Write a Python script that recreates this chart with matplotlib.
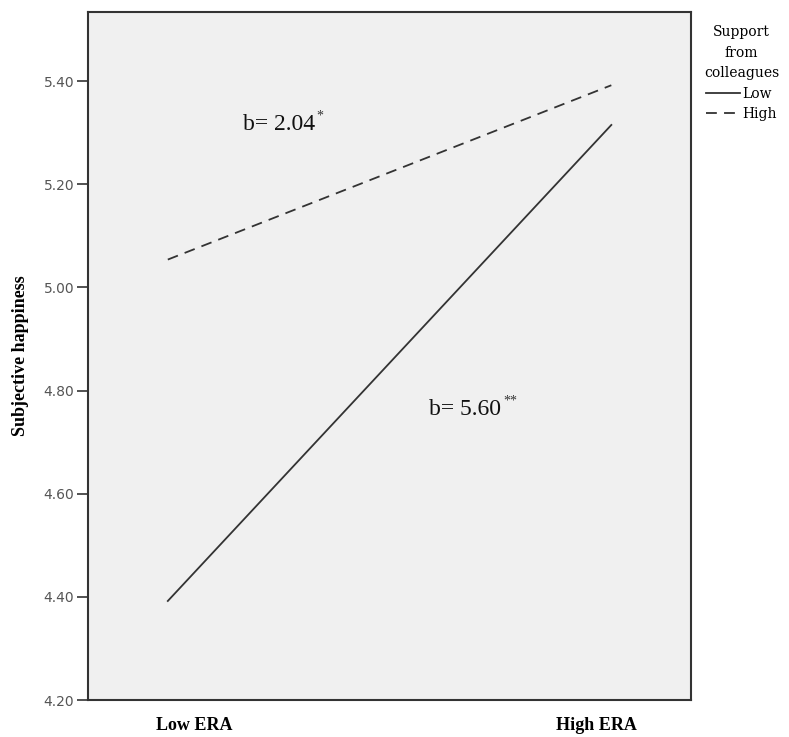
import matplotlib
matplotlib.use("Agg")
import matplotlib.pyplot as plt

categories = ["Low ERA", "High ERA"]
low_support = [4.392, 5.315]
high_support = [5.054, 5.392]
yticks = [4.20, 4.40, 4.60, 4.80, 5.00, 5.20, 5.40]

fig = plt.figure(figsize=(7.89, 7.37), dpi=100)
ax = fig.add_axes([0.1115, 0.0502, 0.7645, 0.9335])
ax.set_facecolor("#f0f0f0")

x = [0, 1]
ax.plot(x, low_support, color="#333333", lw=1.3, ls="-", label="Low")
ax.plot(x, high_support, color="#333333", lw=1.3, ls=(0, (6, 4)), label="High")

ax.set_xlim(-0.18, 1.18)
ax.set_ylim(4.20, 5.534)
ax.set_yticks(yticks)
ax.set_yticklabels([f"{v:.2f}" for v in yticks], fontsize=10, color="#555555",
                   family="DejaVu Sans")
ax.tick_params(axis="y", direction="out", length=8, width=1.2, color="#333333", pad=2)
ax.set_xticks([0.06, 0.966])
ax.set_xticklabels(categories, family="Liberation Serif", fontsize=13, fontweight="bold")
ax.tick_params(axis="x", length=0, pad=12)
ax.set_ylabel("Subjective happiness", family="Liberation Serif", fontsize=13,
              fontweight="bold", labelpad=10)
for s in ax.spines.values():
    s.set_color("#333333")
    s.set_linewidth(1.5)

t1 = ax.text(0.17, 5.305, "b= 2.04", fontsize=17, family="Liberation Serif",
             color="#111111")
ax.annotate("*", xy=(1.0, 0.62), xycoords=t1, xytext=(1, 0), textcoords="offset points",
            fontsize=10, family="Liberation Serif", color="#333333", va="bottom")
t2 = ax.text(0.59, 4.752, "b= 5.60", fontsize=17, family="Liberation Serif",
             color="#111111")
ax.annotate("**", xy=(1.0, 0.62), xycoords=t2, xytext=(1, 0), textcoords="offset points",
            fontsize=10, family="Liberation Serif", color="#333333", va="bottom")

leg = ax.legend(loc="upper left", bbox_to_anchor=(1.005, 0.995), frameon=False,
                title="Support\nfrom\ncolleagues",
                prop={"family": "DejaVu Serif", "size": 10},
                handlelength=2.4, handletextpad=0.2, borderaxespad=0.3,
                labelspacing=0.45)
plt.setp(leg.get_title(), family="DejaVu Serif", fontsize=10,
         multialignment="center", linespacing=1.6)

fig.savefig("out.png", dpi=100)
